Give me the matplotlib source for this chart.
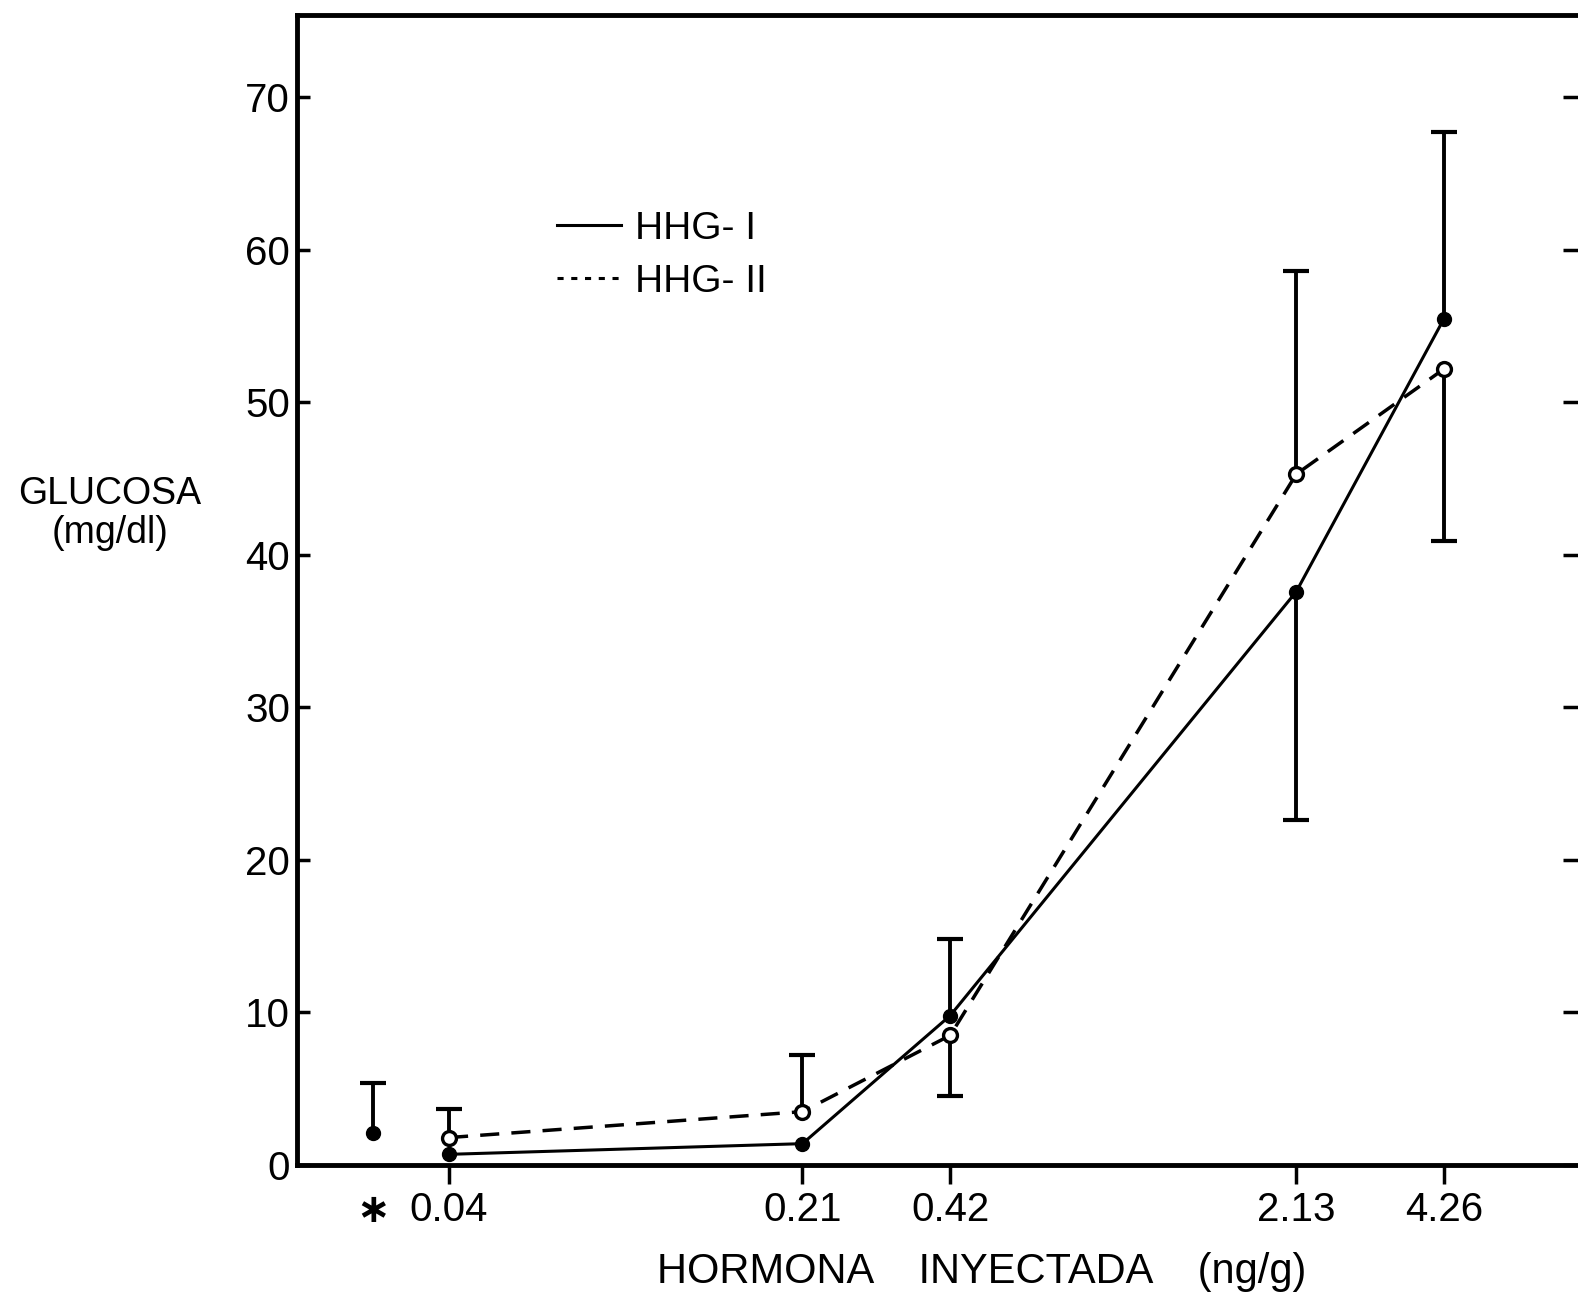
import matplotlib
matplotlib.use("Agg")
import matplotlib.pyplot as plt
from matplotlib.lines import Line2D
from matplotlib.ticker import NullLocator

# dosis (ng/g), el control sin hormona se pone a la izquierda con "*"
dose = [0.04, 0.21, 0.42, 2.13, 4.26]
dose_labels = ["0.04", "0.21", "0.42", "2.13", "4.26"]
ctrl_x = [0.028]
ctrl_y = [2.1]
ctrl_err_up = [3.3]
ctrl_err_low = [0]

# HHG-I (linea continua, punto lleno)
hhg1 = [0.7, 1.4, 9.8, 37.6, 55.5]
hhg1_err_low = [0, 0, 0, 15.0, 0]
hhg1_err_up = [0, 0, 5.0, 0, 12.2]

# HHG-II (linea discontinua, punto vacio)
hhg2 = [1.8, 3.5, 8.5, 45.3, 52.2]
hhg2_err_low = [0, 0, 4.0, 0, 11.3]
hhg2_err_up = [1.9, 3.7, 0, 13.3, 0]

y_ticks = [0, 10, 20, 30, 40, 50, 60, 70]


def one_sided_err(ax, x, y, low, up):
    # solo se dibuja la parte de la barra que existe, con su tope
    ax.errorbar(x, y, yerr=[low, up], fmt='none', ecolor='black', elinewidth=2.8, capsize=0, zorder=2)
    tips_x = [xi for xi, u in zip(x, up) if u > 0] + [xi for xi, l in zip(x, low) if l > 0]
    tips_y = [yi + u for yi, u in zip(y, up) if u > 0] + [yi - l for yi, l in zip(y, low) if l > 0]
    ax.plot(tips_x, tips_y, linestyle='none', marker='_', markersize=19, markeredgewidth=3,
            color='black', zorder=2)


plt.rcParams.update({'font.family': ['Liberation Sans', 'DejaVu Sans'], 'font.size': 29})

fig = plt.figure(figsize=(15.78, 13.09), dpi=100)
ax = fig.add_axes([0.1882, 0.1100, 0.8162, 0.8785])

ax.set_xscale('log')
ax.set_xlim(0.0196, 8.25)
ax.set_ylim(0, 75.4)

# control
one_sided_err(ax, ctrl_x, ctrl_y, ctrl_err_low, ctrl_err_up)
ax.plot(ctrl_x, ctrl_y, 'o', color='black', markersize=10, zorder=4)

# HHG-I
one_sided_err(ax, dose, hhg1, hhg1_err_low, hhg1_err_up)
ax.plot(dose, hhg1, '-o', color='black', linewidth=2.2, markersize=10, zorder=3)

# HHG-II
one_sided_err(ax, dose, hhg2, hhg2_err_low, hhg2_err_up)
ax.plot(dose, hhg2, color='black', linewidth=2.5, linestyle=(0, (5.5, 3.5)), zorder=3)
ax.plot(dose, hhg2, 'o', color='black', markersize=10, markerfacecolor='white',
        markeredgewidth=2.4, zorder=4)

# ejes
ax.xaxis.set_minor_locator(NullLocator())
ax.set_xticks(ctrl_x + dose)
ax.set_xticklabels(["\u2217"] + dose_labels)
ax.get_xticklabels()[0].set_family(['DejaVu Sans'])
ax.get_xticklabels()[0].set_fontweight('bold')
ax.xaxis.get_major_ticks()[0].tick1line.set_visible(False)
ax.set_yticks(y_ticks)
ax.set_yticklabels([str(v) for v in y_ticks])

ax.tick_params(axis='x', direction='out', length=14, width=2.5, pad=5)
ax.tick_params(axis='y', direction='in', length=9, width=2.5, pad=5, right=True)
for side in ['left', 'bottom', 'top', 'right']:
    ax.spines[side].set_linewidth(3.5)
for t in ax.yaxis.get_major_ticks():
    t.tick2line.set_markersize(16)

# leyenda
handles = [Line2D([], [], color='black', linewidth=2.2),
           Line2D([], [], color='black', linewidth=2.2, linestyle=(0, (2, 2.5)))]
ax.legend(handles, ["HHG- I", "HHG- II"], loc='center left',
          bbox_to_anchor=(0.353, 0.805), bbox_transform=fig.transFigure,
          frameon=False, fontsize=28, handlelength=1.65, handletextpad=0.35,
          labelspacing=0.45, borderpad=0, borderaxespad=0)

fig.text(0.0697, 0.608, "GLUCOSA\n(mg/dl)", fontsize=27, ha='center', va='center',
         linespacing=1.1)
fig.text(0.622, 0.028, "HORMONA    INYECTADA    (ng/g)", fontsize=30, ha='center', va='center')

fig.savefig('out.png', dpi=100)
